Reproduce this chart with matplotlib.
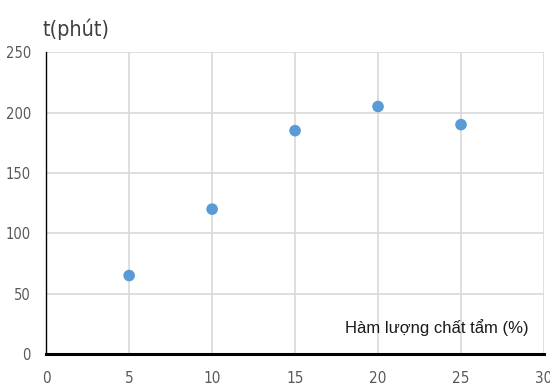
import matplotlib
matplotlib.use("Agg")
import matplotlib.pyplot as plt

# Data
ham_luong = [5, 10, 15, 20, 25]        # Hàm lượng chất tẩm (%)
thoi_gian = [65, 120, 185, 205, 190]   # t (phút)
x_ticks = [0, 5, 10, 15, 20, 25, 30]
y_ticks = [0, 50, 100, 150, 200, 250]

plt.rcParams["font.family"] = ["Liberation Sans", "DejaVu Sans"]

fig = plt.figure(figsize=(5.5, 3.85), dpi=100)
ax = fig.add_axes([0.084, 0.0805, 0.905, 0.784])

ax.scatter(ham_luong, thoi_gian, s=70, color="#5B9BD5", edgecolors="none", zorder=3)

ax.set_xlim(0, 30)
ax.set_ylim(0, 250)
ax.set_xticks(x_ticks)
ax.set_yticks(y_ticks)
ax.grid(True, color="#D9D9D9", linewidth=1.2)
ax.set_axisbelow(True)

for side in ["top", "right"]:
    ax.spines[side].set_visible(False)
ax.spines["left"].set_color("black")
ax.spines["left"].set_linewidth(1.0)
ax.spines["bottom"].set_color("black")
ax.spines["bottom"].set_linewidth(2.2)
ax.spines["bottom"].set_zorder(4)

ax.tick_params(axis="both", length=0, labelcolor="#595959")
ax.tick_params(axis="x", pad=12, labelsize=11)
ax.tick_params(axis="y", pad=11, labelsize=10.5)
for lbl in ax.get_xticklabels() + ax.get_yticklabels():
    lbl.set_fontfamily(["DejaVu Sans"])
    lbl.set_fontstretch("condensed")

fig.text(0.077, 0.895, "t(phút)", fontsize=15.5, color="#404040",
         family=["DejaVu Sans"], fontstretch="condensed", ha="left", va="bottom")
ax.text(0.97, 0.06, "Hàm lượng chất tẩm (%)", transform=ax.transAxes,
        fontsize=12, color="#1a1a1a", ha="right", va="bottom")

fig.savefig("out.png", dpi=100)
